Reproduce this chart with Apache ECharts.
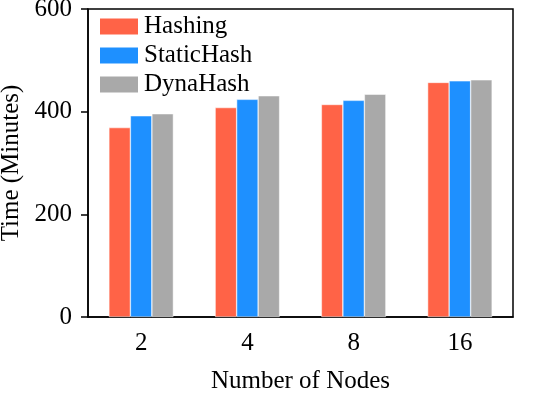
<!DOCTYPE html>
<html><head><meta charset="utf-8">
<script src="https://cdn.jsdelivr.net/npm/echarts@6/dist/echarts.min.js"></script>
<style>html,body{margin:0;padding:0;background:#fff}#c{width:541px;height:393px}</style>
</head><body><div id="c"></div>
<script>
const categories = ['2', '4', '8', '16'];
const hashing = [369, 408, 414, 457];
const staticHash = [392, 424, 422, 460];
const dynaHash = [396, 431, 434, 462];
const yTicks = [0, 200, 400, 600];

const font = 'Liberation Serif';
const chart = echarts.init(document.getElementById('c'), null, {renderer: 'canvas'});
const mk = (name, data, color) => ({
  name, type: 'bar', data, barWidth: 21.5, barGap: '0%',
  itemStyle: {color, borderColor: '#fff', borderWidth: 0.5}
});
chart.setOption({
  animation: false,
  grid: {left: 88, right: 28, top: 9, bottom: 76, show: true, borderColor: '#000', borderWidth: 1.5,
         containLabel: false, outerBoundsMode: 'none'},
  legend: {
    orient: 'vertical', left: 93, top: 9, itemWidth: 40, itemHeight: 18, itemGap: 4,
    icon: 'rect',
    textStyle: {fontFamily: font, fontSize: 25, color: '#000'},
    data: ['Hashing', 'StaticHash', 'DynaHash']
  },
  xAxis: {
    type: 'category', data: categories,
    axisLine: {lineStyle: {color: '#000', width: 1.5}},
    axisTick: {alignWithLabel: true, length: 7, lineStyle: {color: '#000', width: 1.5}},
    axisLabel: {fontFamily: font, fontSize: 25, color: '#000', margin: 14},
    name: 'Number of Nodes', nameLocation: 'middle', nameGap: 52,
    nameTextStyle: {fontFamily: font, fontSize: 25, color: '#000'}
  },
  yAxis: {
    type: 'value', min: yTicks[0], max: yTicks[yTicks.length - 1], interval: 200,
    splitLine: {show: false},
    axisLine: {show: true, lineStyle: {color: '#000', width: 1.5}},
    axisTick: {show: true, length: 7, lineStyle: {color: '#000', width: 1.5}},
    axisLabel: {fontFamily: font, fontSize: 25, color: '#000', margin: 16},
    name: 'Time (Minutes)', nameLocation: 'middle', nameGap: 62, nameRotate: 90,
    nameTextStyle: {fontFamily: font, fontSize: 25, color: '#000'}
  },
  series: [
    mk('Hashing', hashing, '#FF6347'),
    mk('StaticHash', staticHash, '#1E90FF'),
    mk('DynaHash', dynaHash, '#A9A9A9')
  ]
});
</script></body></html>
